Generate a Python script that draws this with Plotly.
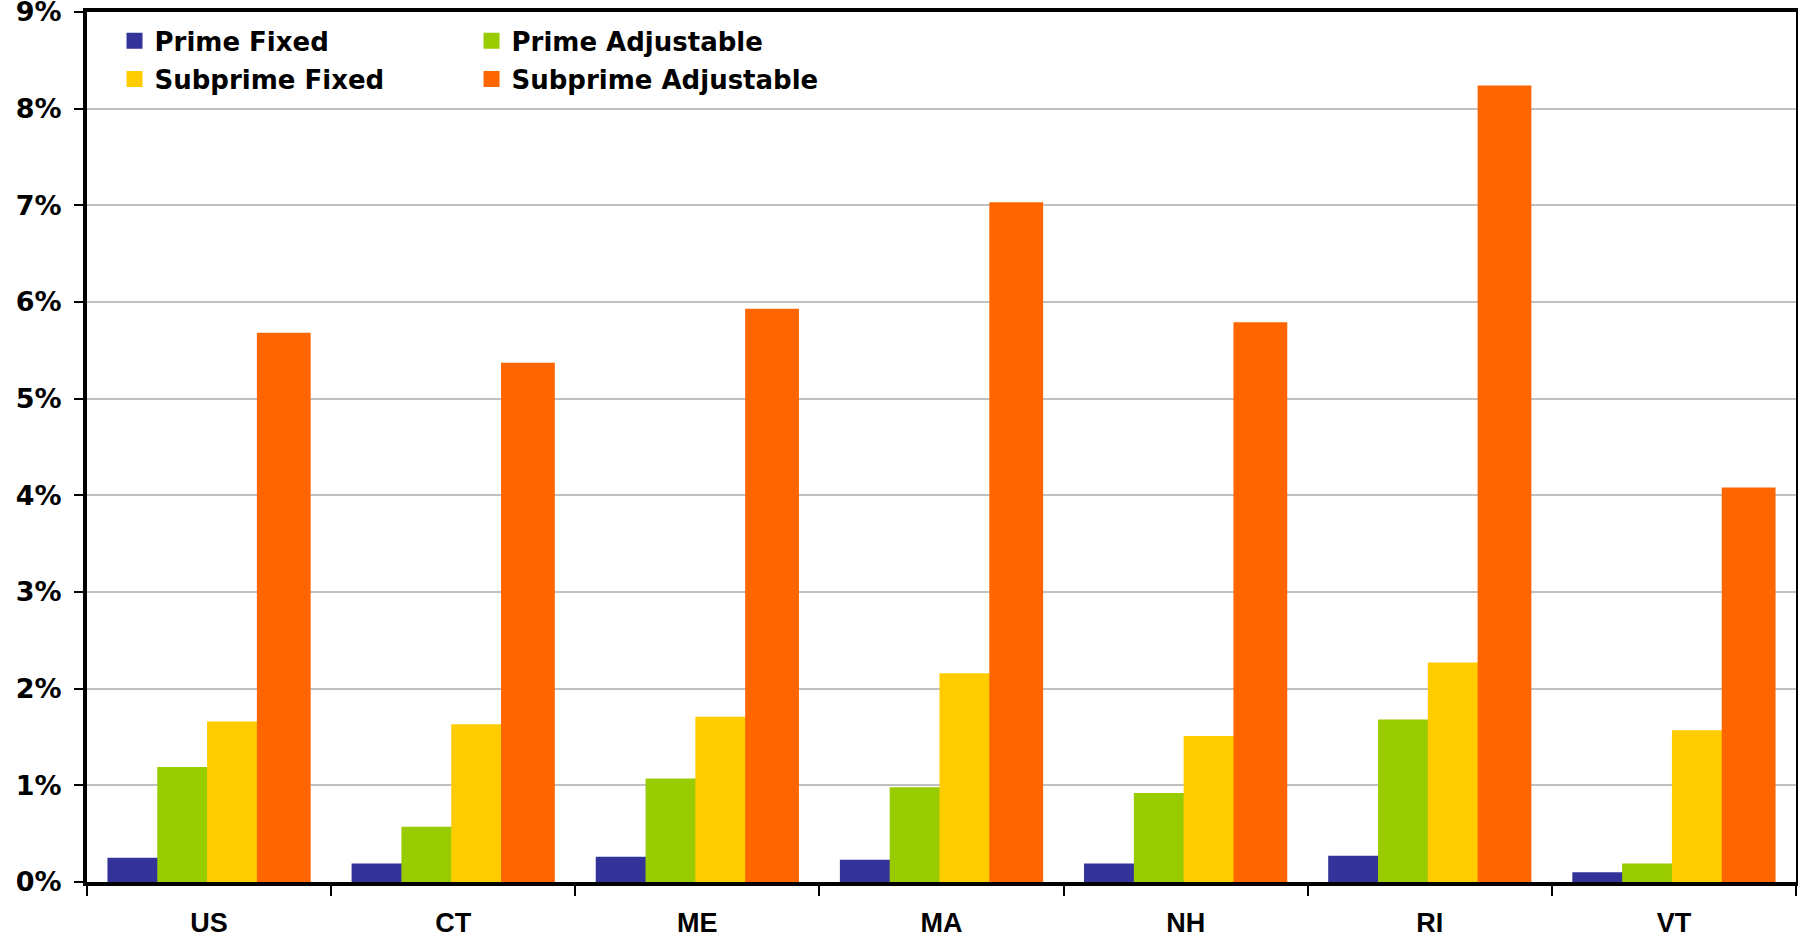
import plotly.graph_objects as go

categories = ["US", "CT", "ME", "MA", "NH", "RI", "VT"]
prime_fixed = [0.23, 0.17, 0.24, 0.21, 0.17, 0.25, 0.08]
prime_adjustable = [1.17, 0.55, 1.05, 0.96, 0.90, 1.66, 0.17]
subprime_fixed = [1.64, 1.61, 1.69, 2.14, 1.49, 2.25, 1.55]
subprime_adjustable = [5.66, 5.35, 5.91, 7.01, 5.77, 8.22, 4.06]
y_ticks = [0, 1, 2, 3, 4, 5, 6, 7, 8, 9]
y_tick_labels = ["0%", "1%", "2%", "3%", "4%", "5%", "6%", "7%", "8%", "9%"]

series = [
    ("Prime Fixed", prime_fixed, "#333399", "legend"),
    ("Prime Adjustable", prime_adjustable, "#99CC00", "legend"),
    ("Subprime Fixed", subprime_fixed, "#FFCC00", "legend2"),
    ("Subprime Adjustable", subprime_adjustable, "#FF6600", "legend2"),
]

fig = go.Figure()
for name, vals, color, lg in series:
    fig.add_trace(go.Bar(
        x=categories, y=vals, name=name, legend=lg,
        marker=dict(color=color, line=dict(width=4, color=color)),
        hoverinfo="x+y+name",
    ))

legend_font = dict(family="DejaVu Sans", size=26, color="black", weight="bold")
common_legend = dict(
    orientation="h", xanchor="left", yanchor="middle",
    font=legend_font, bgcolor="rgba(0,0,0,0)", borderwidth=0,
    entrywidth=312, entrywidthmode="pixels", itemwidth=30,
    traceorder="normal",
)

fig.update_layout(
    width=1798, height=938,
    margin=dict(l=87, r=2, t=12, b=56),
    paper_bgcolor="white", plot_bgcolor="white",
    barmode="group", bargap=0.184, bargroupgap=0,
    showlegend=True,
    legend=dict(x=0.0161, y=0.9667, **common_legend),
    legend2=dict(x=0.0161, y=0.923, **common_legend),
    xaxis=dict(
        type="category", tickson="boundaries", automargin=False,
        ticks="outside", ticklen=10, tickwidth=2, tickcolor="black",
        showline=True, linecolor="black", linewidth=4, mirror=True,
        showgrid=False, ticklabelstandoff=14,
        tickfont=dict(family="Liberation Sans", size=27, color="black", weight="bold"),
    ),
    yaxis=dict(
        range=[0, 9], tickmode="array", tickvals=y_ticks, ticktext=y_tick_labels,
        automargin=False, ticklabeloverflow="allow", ticklabelstandoff=7,
        ticks="outside", ticklen=9, tickwidth=2, tickcolor="black",
        showline=True, linecolor="black", linewidth=4, mirror=True,
        showgrid=True, gridcolor="#C0C0C0", gridwidth=2,
        zeroline=False,
        tickfont=dict(family="DejaVu Sans", size=27, color="black", weight="bold"),
    ),
)

fig.write_html(
    "out.html",
    config={"displayModeBar": False},
    post_script="document.body.style.margin='0';",
)
